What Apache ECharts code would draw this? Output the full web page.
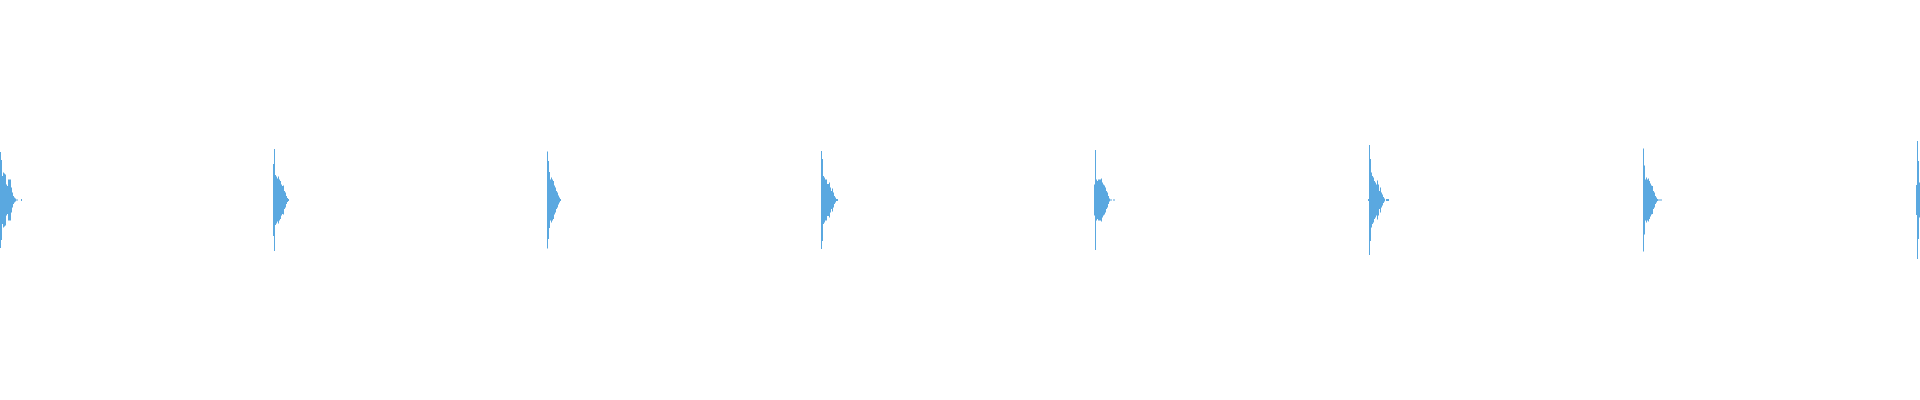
<!DOCTYPE html>
<html lang="en">

<head>
    <meta charset="UTF-8">
    <title>Waveform</title>
    <script src="https://cdn.jsdelivr.net/npm/echarts@6/dist/echarts.min.js"></script>
    <style>
        html, body {
            margin: 0;
            padding: 0;
            background: #fff;
        }
        .wave {
            width: 1920px;
            height: 400px;
        }
    </style>
</head>

<body>
    <div class="wave" id="wave"></div>

    <script>
        // number of sample columns on the time axis
        var sampleCount = 1920;

        // first sample of each burst
        var burstStarts = [0, 273, 547, 821, 1094, 1368, 1643, 1916];

        // peak amplitude per sample column
        var burst1 = [0.96, 0.8, 0.48, 0.55, 0.53, 0.51, 0.31, 0.28, 0.41, 0.41, 0.41, 0.25, 0.15, 0.08, 0.05, 0.03, 0.01, 0.01, 0, 0, 0, 0.02];
        var burst2 = [0.72, 1.02, 0.5, 0.47, 0.43, 0.47, 0.41, 0.38, 0.31, 0.28, 0.29, 0.18, 0.15, 0.08, 0.04, 0.02];
        var burst3 = [0.97, 0.78, 0.56, 0.41, 0.45, 0.41, 0.38, 0.29, 0.25, 0.18, 0.15, 0.09, 0.05, 0.02];
        var burst4 = [0.98, 0.82, 0.48, 0.45, 0.41, 0.41, 0.32, 0.32, 0.35, 0.25, 0.18, 0.23, 0.15, 0.08, 0.05, 0.02, 0.02];
        var burst5 = [0.31, 1.0, 0.41, 0.38, 0.41, 0.41, 0.41, 0.43, 0.35, 0.31, 0.29, 0.25, 0.18, 0.15, 0.08, 0.03, 0.01, 0.01, 0, 0.01, 0.01];
        var burst6 = [0.02, 1.1, 0.82, 0.55, 0.48, 0.45, 0.38, 0.35, 0.31, 0.39, 0.31, 0.18, 0.25, 0.15, 0.11, 0.06, 0.03, 0, 0.02, 0.02, 0.02];
        var burst7 = [1.03, 0.69, 0.41, 0.45, 0.41, 0.43, 0.38, 0.33, 0.29, 0.28, 0.18, 0.15, 0.08, 0.05, 0.02, 0.01, 0.01, 0.01, 0.01];
        var burst8 = [0.3, 1.18, 0.78, 0.35];

        var bursts = [burst1, burst2, burst3, burst4, burst5, burst6, burst7, burst8];

        // lay the bursts out on the sample axis
        var samples = [];
        var upper = [];
        var lower = [];
        for (var i = 0; i < sampleCount; i++) {
            samples.push(i);
            upper.push(0);
            lower.push(0);
        }
        bursts.forEach(function (b, k) {
            for (var j = 0; j < b.length; j++) {
                var idx = burstStarts[k] + j;
                if (idx < sampleCount) {
                    upper[idx] = b[j];
                    lower[idx] = -b[j];
                }
            }
        });

        var waveChart = echarts.init(document.getElementById('wave'));
        waveChart.setOption({
            animation: false,
            grid: {
                left: 0,
                right: 0,
                top: 0,
                bottom: 0
            },
            xAxis: {
                type: 'category',
                data: samples,
                show: false
            },
            yAxis: {
                type: 'value',
                min: -4,
                max: 4,
                show: false
            },
            series: [{
                name: 'upper',
                type: 'bar',
                data: upper,
                barWidth: '100%',
                barGap: '-100%',
                itemStyle: { color: '#5aa8e0' }
            }, {
                name: 'lower',
                type: 'bar',
                data: lower,
                barWidth: '100%',
                barGap: '-100%',
                itemStyle: { color: '#5aa8e0' }
            }]
        });
    </script>
</body>

</html>
